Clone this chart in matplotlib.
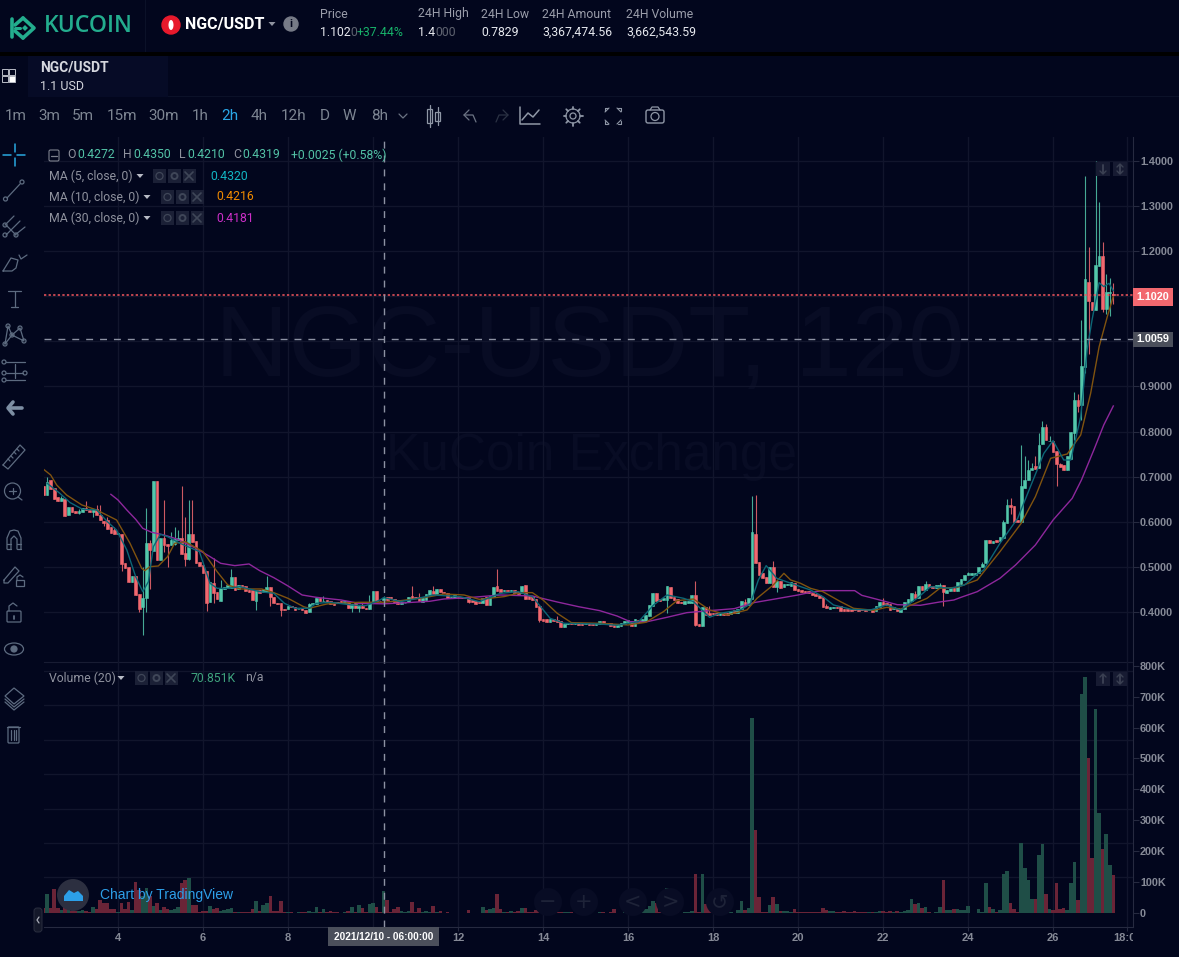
import math

import matplotlib
matplotlib.use("Agg")
import matplotlib.pyplot as plt
from matplotlib.patches import Rectangle, Circle, Polygon, Ellipse, FancyBboxPatch

# chart data (2h candles, x is day of the month)
first_day = 2.25
candle_step = 1 / 12

opens = [
    .679, .659, .693, .674, .654, .645, .650, .616, .633, .624,
    .620, .622, .631, .627, .622, .628, .616, .602, .604, .588,
    .582, .574, .574, .509, .500, .467, .480, .440, .412, .431,
    .553, .535, .690, .516, .563, .551, .548, .550, .559, .563,
    .530, .517, .574, .557, .511, .504, .491, .4225, .464, .445,
    .425, .450, .453, .454, .477, .452, .460, .4577, .449, .448,
    .425, .449, .444, .445, .455, .433, .420, .420, .407, .406,
    .414, .410, .406, .408, .4047, .3998, .4172, .417, .432, .4244,
    .4267, .4244, .422, .4214, .4236, .420, .425, .4096, .419, .408,
    .413, .4096, .4067, .4215, .4466, .4253, .4272, .4325, .4340, .4290,
    .4266, .4177, .4199, .4222, .4355, .4340, .4333, .4229, .4266, .4377,
    .4466, .4399, .4510, .4450, .4414, .4320, .4311, .4340, .4325, .4305,
    .4325, .4266, .4251, .4229, .4192, .4325, .4155, .4340, .4577, .4503,
    .4466, .4488, .4466, .4488, .4451, .4414, .4599, .4362, .4347, .4288,
    .4140, .3845, .3838, .3786, .3838, .3823, .3808, .3675, .3727, .3749,
    .3727, .3764, .3749, .3727, .3749, .3742, .3712, .3727, .3801, .3764,
    .3749, .3734, .3675, .3697, .3727, .3764, .3801, .3690, .3823, .3771,
    .3801, .3911, .4133, .4429, .4281, .4259, .4259, .4562, .4325, .4296,
    .4229, .4185, .4207, .4207, .4377, .3734, .3697, .4118, .3971, .3971,
    .3985, .3941, .3985, .3971, .3956, .4045, .3985, .4074, .4229, .4155,
    .4281, .5730, .5116, .4857, .4784, .4651, .4991, .4547, .4687, .4547,
    .4599, .4576, .4650, .4502, .4488, .4473, .4458, .4429, .4399, .4377,
    .4325, .4133, .4074, .4089, .4118, .4133, .4059, .4066, .4066, .4059,
    .4059, .4059, .4059, .4037, .4074, .4022, .4103, .4229, .4192, .4177,
    .4074, .4089, .4000, .4066, .4199, .4251, .4399, .4303, .4576, .4488,
    .4621, .4584, .4540, .4584, .4599, .4429, .4465, .4539, .4465, .4621,
    .4709, .4820, .4826, .4826, .4857, .4990, .5079, .5596, .5540, .5590,
    .5582, .5633, .5981, .6373, .6349, .6040, .6003, .6742, .6927, .7141,
    .7237, .7186, .7725, .8109, .7790, .7792, .7570, .7274, .7259, .7149,
    .7385, .7961, .8701, .8590, .9440, 1.1325, 1.0881, 1.0696, 1.1672, 1.1894,
    1.0718, 1.1080, 1.1051,
]
closes = [
    .659, .689, .673, .651, .646, .652, .613, .633, .622, .620,
    .624, .630, .626, .622, .629, .614, .604, .598, .585, .576,
    .574, .576, .506, .498, .467, .480, .438, .406, .430, .554,
    .537, .690, .515, .565, .548, .546, .560, .562, .563, .529,
    .517, .574, .556, .509, .502, .487, .421, .466, .441, .428,
    .453, .456, .460, .4775, .449, .460, .455, .4473, .4444, .4267,
    .449, .443, .450, .456, .433, .419, .4185, .4045, .404, .414,
    .410, .404, .4075, .4047, .398, .4177, .4195, .432, .4245, .4247,
    .4230, .417, .4165, .4200, .4192, .425, .4096, .418, .408, .413,
    .408, .4074, .4215, .4466, .424, .4244, .4319, .4275, .4300, .4230,
    .4178, .4229, .4210, .4340, .4296, .4311, .4252, .4303, .4399, .4488,
    .4392, .451, .4444, .4430, .4311, .4340, .4370, .4310, .4305, .4325,
    .4222, .4229, .4185, .4207, .4318, .4155, .4355, .4562, .4466, .4451,
    .4488, .4473, .4488, .4414, .4399, .4577, .4288, .4281, .4266, .4118,
    .3823, .3800, .3786, .3845, .3801, .3771, .3675, .3727, .3764, .3727,
    .3764, .3720, .3712, .3749, .3720, .3720, .3749, .3808, .3742, .3742,
    .3697, .3668, .3727, .3749, .3808, .3823, .3690, .3845, .3786, .3845,
    .3934, .4155, .4429, .4251, .4251, .4303, .4577, .4303, .4266, .4192,
    .4192, .4251, .4251, .4377, .3712, .3697, .4118, .3934, .3934, .3949,
    .3934, .3985, .3934, .3934, .4030, .3985, .4067, .4251, .4140, .4318,
    .5781, .5094, .4821, .4747, .4636, .4991, .4562, .4687, .4525, .4621,
    .4621, .4660, .4488, .4465, .4443, .4414, .4414, .4377, .4355, .4318,
    .4103, .4089, .4111, .4111, .4096, .4022, .4022, .4022, .4022, .4044,
    .4022, .4037, .4022, .4059, .3999, .4133, .4222, .4155, .4155, .4044,
    .4111, .4022, .4074, .4222, .4296, .4414, .4318, .4576, .4488, .4621,
    .4554, .4540, .4599, .4599, .4451, .4488, .4539, .4465, .4665, .4732,
    .4820, .4857, .4857, .4857, .5005, .5057, .5596, .5537, .5566, .5560,
    .5671, .6003, .6373, .6336, .6003, .6003, .6794, .6927, .7149, .7186,
    .7163, .7703, .8109, .7814, .7800, .7555, .7282, .7208, .7149, .7459,
    .7999, .8701, .8568, .9455, 1.1384, 1.0903, 1.0696, 1.1694, 1.1894, 1.0718,
    1.1088, 1.1100, 1.1020,
]
high_wicks = {
    1: .700, 5: .657, 10: .628, 12: .646, 15: .637, 16: .637, 18: .610, 20: .589, 28: .500,
    29: .630, 30: .560, 34: .648, 36: .578, 37: .588, 38: .582, 39: .679, 40: .610, 41: .648,
    42: .648, 48: .519, 50: .471, 53: .495, 63: .480, 75: .4190, 79: .4350, 90: .423, 92: .438,
    96: .4350, 104: .4577, 106: .4414, 110: .4577, 128: .4954, 145: .3911, 184: .4687,
    188: .4133, 198: .4281, 200: .6572, 201: .6594, 206: .5131, 221: .4177, 237: .4318,
    246: .4458, 249: .4690, 253: .4635, 261: .4894, 265: .5116, 271: .6040, 272: .6498,
    273: .6521, 275: .6040, 276: .7703, 277: .7459, 278: .7370, 279: .7296, 280: .7459,
    281: .7976, 282: .8243, 283: .8170, 284: .7900, 287: .7310, 291: .8885, 292: .8834,
    293: 1.0475, 294: 1.3667, 295: 1.2101, 297: 1.4, 298: 1.3098, 299: 1.2197, 300: 1.1494,
    301: 1.1398, 302: 1.1288,
}
low_wicks = {
    10: .6175, 14: .611, 17: .591, 22: .4917, 27: .4008, 28: .349, 29: .40, 30: .452, 34: .534,
    35: .50, 37: .548, 40: .502, 41: .515, 46: .402, 48: .419, 60: .4045, 64: .414, 67: .3919,
    74: .3975, 87: .4003, 89: .4003, 96: .4210, 120: .420, 140: .378, 176: .3985, 184: .3697,
    207: .4452, 254: .4133, 273: .6183, 286: .6801, 291: .7814, 292: .8442, 293: .8258,
    294: .9292, 295: .9721, 299: 1.0644, 300: 1.0607, 301: 1.0563, 302: 1.0829,
}
# volume in thousands
volumes = [
    15, 60, 16, 77, 16, 9, 35, 10, 6, 5,
    6, 8, 5, 3, 19, 11, 41, 32, 30, 11,
    11, 3, 32, 10, 35, 8, 98, 73, 54, 79,
    55, 22, 30, 9, 19, 12, 9, 11, 17, 95,
    104, 111, 26, 26, 3, 5, 6, 22, 11, 16,
    5, 8, 11, 16, 3, 2, 3, 2, 3, 13,
    38, 5, 25, 32, 52, 5, 4, 36, 2, 2,
    1, 0, 1, 2, 3, 6, 1, 18, 3, 11,
    2, 5, 3, 1, 0, 2, 6, 19, 3, 25,
    14, 2, 28, 31, 17, 2, 70.851, 41, 3, 11,
    18, 5, 3, 5, 35, 3, 15, 3, 5, 3,
    22, 3, 5, 0, 2, 0, 0, 0, 0, 0,
    9, 0, 0, 0, 18, 9, 12, 15, 61, 12,
    1, 1, 5, 3, 4, 15, 15, 3, 3, 7,
    25, 1, 1, 2, 1, 1, 1, 1, 2, 2,
    0, 2, 2, 0, 0, 0, 0, 3, 1, 0,
    3, 11, 0, 0, 5, 0, 15, 5, 1, 8,
    11, 20, 37, 30, 2, 6, 78, 13, 1, 5,
    0, 1, 3, 5, 124, 3, 124, 27, 13, 3,
    0, 0, 6, 1, 1, 0, 8, 37, 9, 15,
    631, 267, 49, 3, 2, 24, 49, 27, 5, 5,
    5, 3, 11, 3, 2, 1, 2, 1, 1, 1,
    15, 9, 5, 5, 1, 3, 5, 1, 3, 5,
    3, 2, 1, 1, 1, 3, 5, 5, 2, 5,
    2, 5, 3, 6, 9, 43, 27, 30, 15, 18,
    2, 0, 2, 18, 105, 8, 8, 11, 11, 8,
    8, 22, 0, 0, 11, 2, 95, 19, 11, 3,
    8, 124, 134, 30, 11, 3, 227, 144, 105, 44,
    44, 186, 222, 60, 11, 9, 95, 11, 14, 9,
    95, 163, 40, 709, 763, 501, 176, 659, 322, 206,
    254, 154, 121,
]

# moving averages: candle number, value
ma5_at = [1, 4.6, 7.5, 11, 15, 18, 20.6, 23.5, 26, 28, 29.6, 31, 33, 35, 38.5, 44, 47, 49, 52, 55.5,
          61, 65, 68, 71, 75, 77, 81, 87, 91, 95, 96, 100.7, 103.5, 110, 117.6, 123, 129, 134, 138,
          143, 147, 157, 161.8, 168, 172.2, 176, 180.7, 183.5, 188, 191, 196.7, 199.5, 201.8, 204,
          207, 213.7, 216.5, 220, 223, 228, 233.4, 238, 242, 246.6, 250.4, 256, 260, 263.6, 265.4,
          270, 275, 278.6, 282.4, 285, 288, 290, 292.8, 294.6, 296, 298, 299.3, 300.8, 302]
ma5_val = [.6853, .6631, .6425, .6277, .6262, .6003, .5818, .5375, .4784, .4451, .4673, .5449, .5722,
           .5671, .5523, .5338, .4636, .4525, .4525, .4562, .4451, .4414, .4192, .4082, .4082, .4192,
           .4215, .4155, .4141, .4266, .4320, .4230, .4266, .4377, .4340, .4229, .4414, .4451, .4340,
           .3860, .3749, .3734, .3705, .3786, .4155, .4377, .4303, .4229, .3882, .3971, .4045, .4178,
           .4710, .5028, .4746, .4562, .4488, .4340, .4155, .4059, .4044, .4155, .4044, .4303, .4562,
           .4525, .4599, .4842, .4931, .5523, .6077, .6779, .7518, .7799, .7370, .7370, .8331, .9809,
           1.0475, 1.1302, 1.1214, 1.1288, 1.1125]
ma10_at = [0, 2, 3.7, 6.5, 10.8, 15, 20.6, 24.4, 27.7, 28.6, 30, 32.4, 35, 37, 40, 45, 49, 52, 55.5,
           61.6, 65, 69, 73.4, 75, 80, 89, 96, 100.7, 106, 109, 113, 118.7, 123, 130, 134.7, 138, 141,
           145, 149, 157, 165, 170, 175, 178.8, 183.5, 188, 193, 198.6, 201.4, 206, 209, 210.9, 213.7,
           216.5, 220, 225, 228.7, 234.4, 238, 242, 245.7, 249.4, 253, 258, 263.6, 270, 276, 280,
           284.3, 289, 292.8, 295.6, 298, 300.3, 302]
ma10_val = [.7164, .7038, .6816, .6594, .6373, .6262, .6040, .5523, .4968, .4917, .5005, .5020, .5227,
            .5523, .5560, .5338, .4894, .4599, .4510, .4510, .4429, .4303, .4118, .4082, .4178, .4215,
            .4216, .4250, .4303, .4340, .4399, .4377, .4281, .4340, .4429, .4429, .4266, .3971, .3764,
            .3749, .3712, .3771, .4007, .4251, .4288, .4045, .3934, .4045, .4303, .4599, .4857, .4710,
            .4636, .4525, .4451, .4229, .4081, .4037, .4103, .4066, .4177, .4303, .4525, .4547, .4710,
            .5338, .5966, .6557, .7407, .7504, .7925, .8848, .9883, 1.0548, 1.1000]
ma30_at = [19, 21, 23.5, 26, 28, 30.5, 34, 37.6, 43, 47, 50, 54, 58, 61, 65, 69, 73, 77, 84, 89, 96,
           101, 109, 113, 120, 129, 138, 145, 151, 157, 161.9, 165.6, 170, 176, 181.6, 188, 195, 200.5,
           206, 213, 216.5, 220, 229, 231, 235, 241, 247.5, 253, 257, 259, 263.6, 270, 274.4, 280,
           285, 290.4, 293, 296.5, 299.3, 302]
ma30_val = [.6609, .6484, .6262, .6055, .5855, .5767, .5708, .5619, .5412, .5227, .5079, .5028, .5065,
            .4917, .4761, .4577, .4377, .4325, .4266, .4192, .4181, .4200, .4237, .4288, .4318, .4377,
            .4355, .4222, .4118, .4030, .3911, .3786, .3778, .3882, .3985, .4030, .4074, .4207, .4281,
            .4377, .4436, .4473, .4473, .4369, .4288, .4162, .4148, .4222, .4266, .4325, .4451, .4747,
            .5042, .5486, .6040, .6520, .6927, .7592, .8146, .8568]

price_ticks = [0.4, 0.5, 0.6, 0.7, 0.8, 0.9, 1.0, 1.1, 1.2, 1.3, 1.4]
volume_ticks = [0, 100, 200, 300, 400, 500, 600, 700, 800]
volume_grid = [115, 226, 336, 448, 560, 674, 784]
day_ticks = [4, 6, 8, 10, 12, 14, 16, 18, 20, 22, 24, 26, 27.75]
day_labels = ["4", "6", "8", "10", "12", "14", "16", "18", "20", "22", "24", "26", "18:00"]
last_price = 1.1020
cross_price = 1.0059
cross_day = 10.25

W, H = 1179, 957
BG = "#02061d"
GRID = "#11152c"
BORDER = "#262a40"
UP = "#53c7ab"
DOWN = "#f2686f"
UP_VOL = "#1f4e47"
DOWN_VOL = "#6a2437"
GRAY = "#868a97"
ICON = "#5d6b80"
NARROW = ["Liberation Sans Narrow", "Roboto", "DejaVu Sans"]
ARIAL = ["Liberation Sans", "DejaVu Sans"]

plt.rcParams["font.family"] = ARIAL

fig = plt.figure(figsize=(W / 100, H / 100), dpi=100, facecolor=BG)


def px_axes(left, top, right, bottom, **kw):
    return fig.add_axes([left / W, 1 - bottom / H, (right - left) / W, (bottom - top) / H], **kw)


# watermark goes under the axes
fig.text(590 / W, 1 - 350 / H, "NGC-USDT, 120", color="#080c24", fontsize=73, ha="center", va="center", zorder=-1)
fig.text(591 / W, 1 - 456 / H, "KuCoin Exchange", color="#080c24", fontsize=37, ha="center", va="center", zorder=-1)

ax = px_axes(44, 137, 1133, 662)
vol = px_axes(44, 662, 1133, 927, sharex=ax)
for a in (ax, vol):
    a.patch.set_alpha(0)
    for s in a.spines.values():
        s.set_color(BORDER)
        s.set_linewidth(0.8)
    a.spines["left"].set_visible(False)
    a.spines["top"].set_visible(False)
    a.yaxis.tick_right()
    a.tick_params(axis="y", length=4, color=BORDER, labelcolor=GRAY, pad=1)
    a.tick_params(axis="x", length=3, color=BORDER)
    a.grid(True, color=GRID, linewidth=1)
    a.set_axisbelow(True)
ax.spines["bottom"].set_color("#181c33")

days = [first_day + i * candle_step for i in range(len(closes))]
colors = [UP if c >= o else DOWN for o, c in zip(opens, closes)]
vol_colors = [UP_VOL if c >= o else DOWN_VOL for o, c in zip(opens, closes)]

# wicks then bodies
for i, d in enumerate(days):
    top = high_wicks.get(i, max(opens[i], closes[i]))
    low = low_wicks.get(i, min(opens[i], closes[i]))
    if top > low:
        ax.vlines(d, low, top, color=colors[i], linewidth=0.8, alpha=0.85, zorder=2)
ax.bar(days, [abs(c - o) for o, c in zip(opens, closes)], bottom=[min(o, c) for o, c in zip(opens, closes)],
       width=candle_step * 0.76, color=colors, edgecolor=colors, linewidth=0.4, zorder=3)

ma_day = lambda idx: [first_day + i * candle_step for i in idx]
ax.plot(ma_day(ma30_at), ma30_val, color="#8e279c", linewidth=1, zorder=4)
ax.plot(ma_day(ma10_at), ma10_val, color="#80530f", linewidth=1, zorder=4)
ax.plot(ma_day(ma5_at), ma5_val, color="#0c6676", linewidth=1, zorder=4)

ax.axhline(last_price, color="#f5565e", linewidth=1.1, linestyle=(0, (1.5, 1.5)), zorder=5)
ax.axhline(cross_price, color="#8d92a3", linewidth=1, linestyle=(0, (5, 5)), zorder=5)
ax.axvline(cross_day, color="#8d92a3", linewidth=1, linestyle=(0, (5, 5)), zorder=5)
vol.axvline(cross_day, color="#8d92a3", linewidth=1, linestyle=(0, (5, 5)), zorder=5)

ax.set_xlim(2.26, 27.88)
ax.set_ylim(0.2891, 1.4532)
ax.set_yticks(price_ticks)
# the tags for last price and crosshair sit on top of 1.1 and 1.0
ax.set_yticklabels(["" if p in (1.0, 1.1) else f"{p:.4f}" for p in price_ticks], fontsize=7.8, fontweight="bold")
ax.tick_params(axis="x", which="both", length=0, labelbottom=False)

vol.bar(days, volumes, width=candle_step, color=vol_colors, zorder=3)
vol.set_ylim(-47, 813)
vol.set_yticks(volume_ticks)
vol.set_yticklabels([f"{v}K" if v else "0" for v in volume_ticks], fontsize=7.8, fontweight="bold")
vol.grid(False, axis="y")
for g in volume_grid:
    vol.axhline(g, color=GRID, linewidth=1, zorder=1)
vol.set_xticks(day_ticks)
vol.set_xticklabels(["" if t == cross_day - 0.25 else s for t, s in zip(day_ticks, day_labels)],
                    fontsize=8, fontweight="bold", color=GRAY)
vol.tick_params(axis="x", pad=1)

# everything else (page furniture) on a pixel axes on top
ui = fig.add_axes([0, 0, 1, 1], zorder=10)
ui.set_xlim(0, W)
ui.set_ylim(H, 0)
ui.axis("off")


def label(x, y, s, color="#9a9daa", size=8.8, family=NARROW, weight="normal", ha="left"):
    ui.text(x, y, s, color=color, fontsize=size, family=family, fontweight=weight, ha=ha, va="center")


def box(x0, y0, x1, y1, color, z=1):
    ui.add_patch(Rectangle((x0, y0), x1 - x0, y1 - y0, facecolor=color, edgecolor="none", zorder=z))


def stroke(points, color=ICON, lw=0.9):
    ui.plot([p[0] for p in points], [p[1] for p in points], color=color, linewidth=lw, solid_capstyle="round")


def ring(x, y, r, color=ICON, lw=0.9, fill="none"):
    ui.add_patch(Circle((x, y), r, facecolor=fill, edgecolor=color, linewidth=lw))


def icon_boxes(x, y):
    # little eye / gear / close buttons beside each study name
    for k in range(3):
        box(x + k * 15, y - 7, x + k * 15 + 13, y + 7, "#1b2036")
    ring(x + 6.5, y, 3.5, "#3f4658")
    ring(x + 21.5, y, 3, "#3f4658", 1.4)
    stroke([(x + 32, y - 4), (x + 40, y + 4)], "#3f4658", 1.2)
    stroke([(x + 32, y + 4), (x + 40, y - 4)], "#3f4658", 1.2)


def caret(x, y, color="#b8bbc5", r=3.5):
    ui.add_patch(Polygon([(x - r, y - 2), (x + r, y - 2), (x, y + 2)], facecolor=color, edgecolor="none"))


# header
box(0, 52, W, 56, "#000000")
box(145, 0, 146, 52, "#0b1128")
box(44, 96, W, 97, "#0b1128")
box(28, 56, 168, 97, "#060b26")

TEAL = "#23ad8e"
stroke([(12, 19), (12, 37)], TEAL, 2.6)
stroke([(23, 18), (34, 28), (23, 38)], TEAL, 2.6)
stroke([(23, 18), (15, 25)], TEAL, 2.6)
stroke([(23, 38), (15, 31)], TEAL, 2.6)
stroke([(15, 28), (20, 28)], TEAL, 2.2)
ui.add_patch(Polygon([(25, 25), (28, 28), (25, 31), (22, 28)], facecolor=TEAL, edgecolor="none"))
label(44, 26, "KUCOIN", TEAL, 16.6, ["Open Sans", "DejaVu Sans"], "semibold")

ring(171, 25, 9, "#e8192c", 1, "#e8192c")
ui.add_patch(Ellipse((171, 25), 5, 10, facecolor="#ffffff", edgecolor="none"))
label(185, 25, "NGC/USDT", "#ffffff", 11.5, weight="bold")
caret(272, 24, "#8f93a0")
ring(291, 24, 7, "#777b87", 1, "#777b87")
label(291, 24, "i", BG, 8, weight="bold", ha="center")

label(320, 14, "Price")
label(320, 32, "1.102", "#e6e8ee")
label(350, 32, "0", "#5f6370")
label(357, 32, "+37.44%", "#17b26a")
label(418, 14, "24H High")
label(418, 32, "1.4", "#e6e8ee")
label(435, 32, "000", "#5f6370")
label(481, 14, "24H Low")
label(481, 32, "0.7829", "#e6e8ee")
label(542, 14, "24H Amount")
label(542, 32, "3,367,474.56", "#e6e8ee")
label(626, 14, "24H Volume")
label(626, 32, "3,662,543.59", "#e6e8ee")

for x, y, c in [(2, 69, "none"), (9, 69, "none"), (2, 76, "none"), (9, 76, "#ffffff")]:
    ui.add_patch(Rectangle((x, y), 6, 6, facecolor=c, edgecolor="#b9bcc6", linewidth=0.7))
label(40, 68, "NGC/USDT", "#d5d7de", 10, weight="bold")
label(40, 87, "1.1 USD", "#d5d7de", 9)

# toolbar
intervals = [("1m", 5), ("3m", 38), ("5m", 72), ("15m", 107), ("30m", 148), ("1h", 192), ("2h", 221),
             ("4h", 251), ("12h", 281), ("D", 320), ("W", 343), ("8h", 371)]
for name, x in intervals:
    label(x, 116, name, "#2aa8e8" if name == "2h" else "#7d8592", 11)
stroke([(399, 114), (403, 118), (407, 114)], "#6c7484")
ui.add_patch(Rectangle((427, 109), 5, 14, facecolor="none", edgecolor="#8f97a6", linewidth=0.9))
ui.add_patch(Rectangle((435, 112), 5, 9, facecolor="none", edgecolor="#8f97a6", linewidth=0.9))
stroke([(429.5, 105), (429.5, 127)], "#8f97a6")
stroke([(437.5, 107), (437.5, 125)], "#8f97a6")
stroke([(469, 110), (464, 115), (469, 120)], "#6c7484")
stroke([(464, 115), (473, 115), (476, 122)], "#6c7484")
stroke([(503, 110), (508, 115), (503, 120)], "#2b3244")
stroke([(508, 115), (499, 115), (496, 122)], "#2b3244")
stroke([(520, 107), (520, 124), (540, 124)], "#8f97a6", 1.1)
stroke([(522, 120), (528, 113), (533, 117), (539, 110)], "#8f97a6", 1.1)
ring(573, 116, 3, "#8f97a6")
ring(573, 116, 7, "#8f97a6", 0.9)
for k in range(8):
    t = k * math.pi / 4
    stroke([(573 + 7 * math.cos(t), 116 + 7 * math.sin(t)), (573 + 9.5 * math.cos(t), 116 + 9.5 * math.sin(t))],
           "#8f97a6", 1.3)
for a, b in [((605, 112), (609, 108)), ((605, 108), (605, 111)), ((605, 108), (608, 108)),
             ((621, 112), (617, 108)), ((621, 108), (621, 111)), ((621, 108), (618, 108)),
             ((605, 120), (609, 124)), ((605, 124), (605, 121)), ((605, 124), (608, 124)),
             ((621, 120), (617, 124)), ((621, 124), (621, 121)), ((621, 124), (618, 124))]:
    stroke([a, b], "#8f97a6", 0.8)
ui.add_patch(FancyBboxPatch((646, 110), 18, 13, boxstyle="round,pad=0,rounding_size=2", facecolor="none",
                            edgecolor="#8f97a6", linewidth=1))
ring(655, 116.5, 4, "#8f97a6")
stroke([(650, 110), (652, 107), (658, 107), (660, 110)], "#8f97a6")

# study legend
LEG = "#8e919d"
VALUE = "#53c2a6"
ui.add_patch(FancyBboxPatch((49, 150), 10, 11, boxstyle="round,pad=0,rounding_size=1.5", facecolor="none",
                            edgecolor="#7d818e", linewidth=0.8))
stroke([(51, 155.5), (57, 155.5)], "#7d818e")
for x, s in [(67, "O"), (123, "H"), (179, "L"), (233, "C")]:
    label(x, 155, s, LEG, 8.8)
for x, s in [(77, "0.4272"), (133, "0.4350"), (187, "0.4210"), (242, "0.4319"), (291, "+0.0025 (+0.58%)")]:
    label(x, 155, s, VALUE, 8.8)

for y, name, cx, bx, vx, val, col in [(176, "MA (5, close, 0)", 140, 153, 210, "0.4320", "#12b5c2"),
                                      (197, "MA (10, close, 0)", 147, 161, 216, "0.4216", "#f08a00"),
                                      (218, "MA (30, close, 0)", 147, 161, 216, "0.4181", "#cc2fc8")]:
    label(49, y, name, LEG, 8.8)
    caret(cx, y)
    icon_boxes(bx, y)
    label(vx, y, val, col, 8.8)

label(49, 678, "Volume (20)", LEG, 8.8)
caret(121, 678)
icon_boxes(135, 678)
label(191, 678, "70.851K", "#3fa37d", 8.8)
label(245, 678, "n/a", LEG, 8.8)

# price scale tags
box(1133, 288, 1173, 306, DOWN)
label(1153, 297, f"{last_price:.4f}", "#ffffff", 7.8, ARIAL, "bold", "center")
box(1133, 332, 1173, 347, "#4b4f5b")
label(1153, 339.5, f"{cross_price:.4f}", "#ffffff", 7.8, ARIAL, "bold", "center")
box(328, 927, 439, 946, "#4b4f5b", 5)
ui.text(383.5, 936.5, "2021/12/10 - 06:00:00", color="#ffffff", fontsize=7.2, family=ARIAL, fontweight="bold",
        ha="center", va="center", zorder=6)
box(1133, 929, W, H, BG, 5)

# scale buttons in the corners of the panes
for x0, y0 in [(1096, 162), (1113, 162), (1096, 672), (1113, 672)]:
    box(x0, y0, x0 + 14, y0 + 14, "#171b32")
for x, y, up, down in [(1103, 169, False, True), (1120, 169, True, True),
                       (1103, 679, True, False), (1120, 679, True, True)]:
    stroke([(x, y - 4), (x, y + 4)], "#3a4052", 1.4)
    if up:
        stroke([(x - 3, y - 2), (x, y - 5), (x + 3, y - 2)], "#3a4052", 1)
    if down:
        stroke([(x - 3, y + 2), (x, y + 5), (x + 3, y + 2)], "#3a4052", 1)

# TradingView badge and navigation buttons
ring(73, 895, 16, "#2c2f40", 0, "#2c2f40")
ui.add_patch(Polygon([(64, 901), (64, 896), (69, 890), (74, 893), (78, 891), (83, 896), (83, 901)],
                     facecolor="#2c9fe8", edgecolor="none"))
ui.text(100, 895, "Chart by TradingView", color="#2d9fe8", fontsize=10, family=ARIAL, va="center")
for x, s in [(548, "−"), (584, "+"), (633, "<"), (670, ">"), (720, "↺")]:
    ring(x, 902, 14, "#080c24", 0, "#080c24")
    ui.text(x, 902, s, color="#1e2338", fontsize=15, family=["DejaVu Sans"], ha="center", va="center")
ui.add_patch(FancyBboxPatch((34, 908), 8, 24, boxstyle="round,pad=0,rounding_size=3", facecolor="#14182a",
                            edgecolor="#2a2e40", linewidth=0.7))
stroke([(39, 917), (37, 920), (39, 923)], "#a8acb8")

# left tool column
BLUE = "#29a9e0"
stroke([(3, 155), (11, 155)], BLUE, 1.1)
stroke([(17, 155), (25, 155)], BLUE, 1.1)
stroke([(14.5, 144), (14.5, 152)], BLUE, 1.1)
stroke([(14.5, 158), (14.5, 166)], BLUE, 1.1)

stroke([(7, 198), (20, 184)])
ring(5.5, 199, 2)
ring(22, 182, 2)

stroke([(5, 225), (14, 216)])
stroke([(6, 235), (20, 221)])
stroke([(15, 235), (25, 227)])
stroke([(6, 225), (16, 235)])
for x, y in [(5, 225), (5, 235), (16, 235)]:
    ring(x, y, 2)

stroke([(3, 271), (11, 258), (18, 260), (16, 268), (12, 271), (3, 271)])
stroke([(19, 255), (21, 259), (27, 255)])

stroke([(8, 291), (21, 291)])
stroke([(14.5, 291), (14.5, 307)])
stroke([(11, 307), (18, 307)])

pts = [(5, 344), (8, 326), (12, 335), (20, 328), (24, 341), (12, 335), (5, 344)]
stroke(pts)
for x, y in pts[:-2]:
    ring(x, y, 2, fill=BG)

stroke([(6, 362), (25, 362)])
stroke([(6, 373), (23, 373)])
stroke([(6, 380), (25, 380)])
stroke([(14.5, 364), (14.5, 378)])
for x, y in [(4, 362), (4, 373), (4, 380), (25, 373)]:
    ring(x, y, 2, fill=BG)

stroke([(13, 402), (8, 408), (13, 414)], "#7d8ea3", 2.6)
stroke([(9, 408), (22, 408)], "#7d8ea3", 2.6)

stroke([(3, 465), (20, 445), (25, 450), (8, 469), (3, 465)])
for x, y in [(8, 459), (11, 456), (14, 452), (17, 449)]:
    stroke([(x, y), (x + 2, y + 2)])

ring(12.5, 491, 8)
stroke([(18, 497), (22, 500)])
stroke([(9, 491), (16, 491)])
stroke([(12.5, 488), (12.5, 494)])

stroke([(7, 549), (7, 538), (10, 531), (14, 530), (18, 531), (21, 538), (21, 549)])
stroke([(11, 549), (11, 539), (14, 536), (17, 539), (17, 549)])
stroke([(7, 549), (11, 549)])
stroke([(17, 549), (21, 549)])
stroke([(7, 544), (11, 544)])
stroke([(17, 544), (21, 544)])

stroke([(4, 580), (15, 567), (19, 571), (8, 583), (4, 583), (4, 580)])
ui.add_patch(Rectangle((16, 580), 8, 6, facecolor="none", edgecolor=ICON, linewidth=0.9))
stroke([(17, 580), (17, 577), (20, 575), (23, 577)])

ui.add_patch(FancyBboxPatch((7, 611), 14, 11, boxstyle="round,pad=0,rounding_size=1", facecolor="none",
                            edgecolor=ICON, linewidth=0.9))
stroke([(9, 611), (9, 606), (13, 603), (17, 606)])
stroke([(14, 616), (14, 619)], ICON, 1.3)

ui.add_patch(Ellipse((14, 649), 19, 12, facecolor="none", edgecolor=ICON, linewidth=0.9))
ring(14, 649, 3, ICON, 0.9, ICON)

ui.add_patch(Polygon([(14, 688), (24, 696), (14, 704), (5, 696)], facecolor="none", edgecolor=ICON, linewidth=0.9))
stroke([(5, 699), (14, 707), (24, 699)])
stroke([(5, 702), (14, 710), (24, 702)])

stroke([(7, 727), (20, 727)])
ui.add_patch(FancyBboxPatch((8, 727), 11, 16, boxstyle="round,pad=0,rounding_size=1", facecolor="none",
                            edgecolor=ICON, linewidth=0.9))
for x in (11, 13.5, 16):
    stroke([(x, 730), (x, 740)])

fig.savefig("out.png", dpi=100, facecolor=BG)
